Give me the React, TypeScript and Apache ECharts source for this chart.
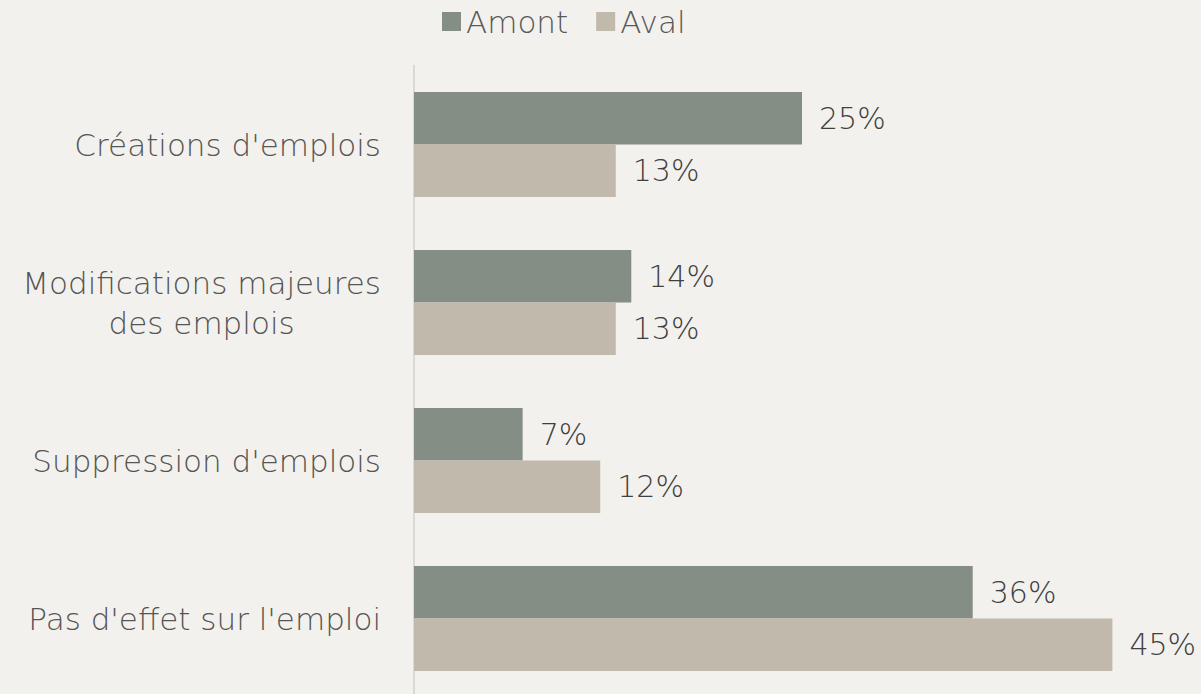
import React, { useEffect, useRef } from "react";
import * as echarts from "echarts";

const categories = [
  "Créations d'emplois",
  "Modifications majeures\ndes emplois",
  "Suppression d'emplois",
  "Pas d'effet sur l'emploi",
];
const amont = [25, 14, 7, 36];
const aval = [13, 13, 12, 45];
const seriesNames = ["Amont", "Aval"];

const FONT = "'DejaVu Sans', sans-serif";
const FW = 200;

export default function App() {
  const ref = useRef<HTMLDivElement>(null);
  useEffect(() => {
    if (!ref.current) return;
    const chart = echarts.init(ref.current, null, { renderer: "svg" });
    const labelStyle = {
      show: true,
      position: "right" as const,
      distance: 17,
      formatter: "{c}%",
      color: "#404040",
      fontSize: 30,
      fontFamily: FONT,
      fontWeight: FW,
    };
    chart.setOption({
      animation: false,
      backgroundColor: "#f3f1ed",
      legend: {
        left: 437,
        top: 1,
        itemWidth: 19,
        itemHeight: 19,
        itemGap: 28,
        icon: "rect",
        textStyle: { fontSize: 31, color: "#595959", fontFamily: FONT, fontWeight: FW },
        data: seriesNames,
      },
      grid: { left: 414, top: 65.5, bottom: 0.5, right: 11 },
      xAxis: { type: "value", min: 0, max: 50, show: false },
      yAxis: {
        type: "category",
        inverse: true,
        data: categories,
        axisTick: { show: false },
        axisLine: { show: true, lineStyle: { color: "#d9d9d9", width: 2 } },
        axisLabel: {
          margin: 33,
          color: "#555555",
          fontSize: 31,
          fontFamily: FONT,
          fontWeight: FW,
          lineHeight: 40,
          formatter: (v: string) => v.split("\n").map((l) => `{c|${l}}`).join("\n"),
          rich: { c: { align: "center", fontSize: 31, fontFamily: FONT, fontWeight: FW, color: "#555555", lineHeight: 40 } },
        },
      },
      series: [
        {
          name: seriesNames[0],
          type: "bar",
          data: amont,
          barWidth: 52.5,
          barGap: "0%",
          itemStyle: { color: "#858e84" },
          label: labelStyle,
        },
        {
          name: seriesNames[1],
          type: "bar",
          data: aval,
          barWidth: 52.5,
          barGap: "0%",
          itemStyle: { color: "#c0b9ac" },
          label: labelStyle,
        },
      ],
    });
    return () => chart.dispose();
  }, []);
  return (
    <div style={{ width: 1201, height: 694, position: "absolute", left: 0, top: 0, overflow: "hidden" }}>
      <div ref={ref} style={{ width: 1201, height: 698 }} />
    </div>
  );
}
